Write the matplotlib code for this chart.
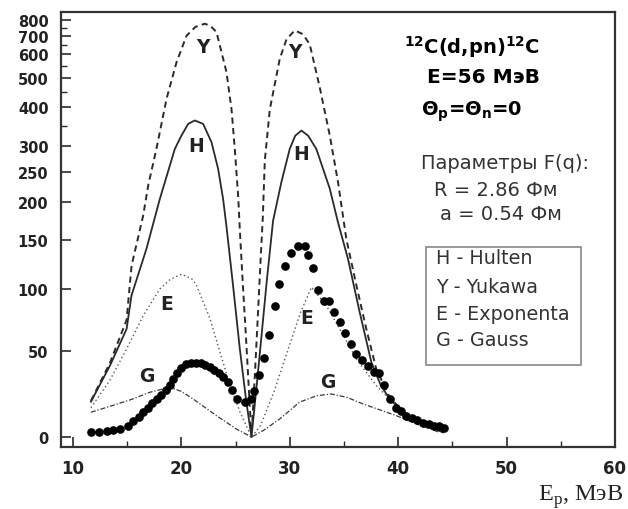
import numpy as np
import matplotlib
matplotlib.use('Agg')
import matplotlib.pyplot as plt
from matplotlib.patches import Rectangle

# ---------------- data ----------------
exp_E = [11.66, 12.42, 13.11, 13.71, 14.33, 15.04, 15.56, 16.08, 16.48, 16.88,
         17.31, 17.71, 18.11, 18.54, 18.94, 19.24, 19.56, 19.93, 20.41, 20.85,
         21.34, 21.77, 22.19, 22.63, 23.02, 23.46, 23.85, 24.26, 24.68, 25.09,
         25.85, 26.47, 26.68, 27.17, 27.63, 28.09, 28.62, 28.99, 29.54, 30.16,
         30.77, 31.45, 31.69, 32.15, 32.61, 33.16, 33.59, 34.08, 34.61, 35.13,
         35.62, 36.15, 36.66, 37.22, 37.74, 38.23, 38.66, 39.22, 39.77, 40.23,
         40.76, 41.27, 41.77, 42.29, 42.81, 43.30, 43.76, 44.22]
exp_val = [3.1, 3.1, 3.7, 4.2, 4.6, 6.6, 9.1, 11.6, 14.3, 16.9,
           19.6, 22.1, 24.6, 27.5, 30.4, 33.7, 37.2, 40.1, 42.3, 43.0,
           43.0, 42.8, 42.0, 40.9, 39.1, 37.2, 34.7, 31.8, 27.5, 22.1,
           20.2, 22.1, 26.6, 36.2, 45.7, 63.1, 85.9, 105.1, 123.8, 136.7,
           144.2, 143.5, 135.0, 121.1, 99.2, 90.6, 90.0, 81.1, 73.6, 64.5,
           55.6, 48.2, 44.9, 41.4, 37.6, 37.0, 30.4, 22.1, 16.7, 14.9,
           12.4, 10.9, 9.9, 8.1, 7.6, 6.6, 6.2, 5.1]

H_E = [11.66, 13.41, 14.95, 15.40, 16.78, 18.02, 19.40, 20.00, 20.63, 21.24,
       22.01, 22.78, 23.39, 23.85, 24.16, 24.77, 25.39, 26.00, 26.47, 26.96,
       27.42, 27.88, 28.46, 29.23, 30.00, 30.50, 31.08, 31.70, 32.45, 33.69,
       34.45, 35.37, 36.45, 37.53, 38.40, 39.22, 40.44, 42.29, 44.13]
H_val = [20.5, 41.4, 67.7, 94.6, 140.8, 205, 294, 325, 355, 364,
         355, 309, 256, 205, 168, 103.4, 52, 20.2, 0, 30.6,
         64.5, 108, 175, 233, 294, 325, 338, 325, 294, 222,
         173, 130.6, 81.2, 43.4, 30, 22, 14.5, 7.6, 2.7]

Y_E = [11.66, 13.41, 14.95, 15.41, 16.48, 16.94, 17.71, 18.64, 19.56, 20.48,
       21.30, 22.17, 22.70, 23.24, 24.16, 24.63, 24.93, 25.24, 25.39, 25.67,
       25.95, 26.22, 26.47, 26.77, 27.05, 27.33, 27.51, 27.70, 28.16, 29.08,
       29.70, 30.46, 31.20, 31.84, 32.76, 33.69, 34.45, 35.22, 36.15, 37.06,
       37.98, 39.22, 40.44, 42.29, 44.13]
Y_val = [21, 43, 75, 123.8, 182, 227, 295, 428, 565, 700,
         755, 775, 760, 723, 524, 393, 294, 210, 164.5, 105,
         63, 28.6, 0, 34.9, 77, 134, 178, 272, 393, 579,
         680, 733, 710, 653, 468, 326, 233, 151, 103.4, 67.7,
         39.5, 23, 15, 8, 3]

E_E = [11.66, 13.41, 14.95, 16.49, 18.02, 19.00, 20.02, 21.00, 21.41, 22.65,
       23.57, 24.50, 25.42, 26.47, 27.30, 28.53, 29.76, 31.00, 32.00, 33.38,
       34.61, 36.15, 37.99, 40.00, 42.00, 44.20]
E_val = [17, 33, 51.6, 78.5, 100, 110, 115, 110, 103.4, 75.8,
         49.2, 29.8, 14.4, 0, 6.6, 26, 49.2, 81.2, 101.7, 86.5,
         67.7, 45.3, 29.8, 17, 9, 4]

G_E = [11.66, 13.50, 15.25, 17.10, 18.94, 20.00, 21.09, 23.24, 25.09, 26.47,
       27.54, 29.08, 30.92, 32.50, 33.84, 35.30, 36.76, 39.83, 41.68, 43.82]
G_val = [14.4, 18, 21.5, 26, 28.9, 26.5, 22.1, 12.4, 4.6, 0,
         3.7, 10.5, 20.3, 24, 25, 23, 19.2, 12.4, 7.6, 2.7]

ytick_vals = [0, 50, 100, 150, 200, 250, 300, 400, 500, 600, 700, 800]
yminor_vals = [350, 450, 550, 650, 750]
xtick_vals = [10, 20, 30, 40, 50, 60]
xminor_vals = [15, 25, 35, 45, 55]
legend_labels = ['H - Hulten', 'Y - Yukawa', 'E - Exponenta', 'G - Gauss']

# ------------- custom (hand-drawn) y scale -------------
scale_v = np.array([-100, 0, 50, 100, 150, 200, 250, 300, 350, 400, 500, 600, 700, 800, 1200], float)
scale_d = np.array([-172, 0, 86, 148, 197, 235, 265, 291, 311, 330, 359, 383, 401, 417, 470], float)


def fwd(v):
    return np.interp(np.asarray(v, float), scale_v, scale_d)


def inv(d):
    return np.interp(np.asarray(d, float), scale_d, scale_v)


fig = plt.figure(figsize=(6.28, 5.10), dpi=100)
ax = fig.add_axes([61 / 628, 1 - 448 / 510, 554 / 628, 435 / 510])
ax.set_yscale('function', functions=(fwd, inv))
ax.set_xlim(8.9, 60)
ax.set_ylim(-5.8, 858)

lc = '#2a2a2a'
ax.plot(H_E, H_val, color=lc, lw=1.3, ls='-')
ax.plot(Y_E, Y_val, color=lc, lw=1.4, ls=(0, (3.2, 2.2)))
ax.plot(E_E, E_val, color='#555555', lw=1.0, ls=(0, (1, 2)))
ax.plot(G_E, G_val, color='#3a3a3a', lw=0.9, ls=(0, (4, 1.5, 1, 1.5)))
ax.plot(exp_E, exp_val, ls='none', marker='o', ms=5.2, color='black')

# ticks
ax.set_yticks(ytick_vals)
ax.set_yticks(yminor_vals, minor=True)
ax.set_yticklabels([str(v) for v in ytick_vals])
ax.set_xticks(xtick_vals)
ax.set_xticks(xminor_vals, minor=True)
ax.set_xticklabels([str(v) for v in xtick_vals])
ax.tick_params(which='major', direction='in', length=7, width=1.2, color=lc)
ax.tick_params(which='minor', direction='in', length=4, width=1.0, color=lc)
ax.tick_params(axis='y', which='major', pad=9)
ax.tick_params(axis='x', which='major', pad=9)
for lab in ax.get_yticklabels():
    lab.set_fontfamily('DejaVu Sans'); lab.set_fontweight('bold'); lab.set_fontsize(10.5); lab.set_color('#222222')
for lab in ax.get_xticklabels():
    lab.set_fontfamily('DejaVu Sans'); lab.set_fontweight('bold'); lab.set_fontsize(12); lab.set_color('#222222')
for sp in ax.spines.values():
    sp.set_linewidth(1.6)
    sp.set_color('#333333')

# curve labels
lab_kw = dict(fontsize=13.5, fontweight='bold', family='DejaVu Sans', ha='center', va='center', color='#222222')
ax.text(21.98, 639, 'Y', **lab_kw)
ax.text(21.40, 300, 'H', **lab_kw)
ax.text(18.64, 88, 'E', **lab_kw)
ax.text(16.79, 35.6, 'G', **lab_kw)
ax.text(30.46, 611, 'Y', **lab_kw)
ax.text(31.08, 285, 'H', **lab_kw)
ax.text(31.54, 77, 'E', **lab_kw)
ax.text(33.53, 32, 'G', **lab_kw)

# annotation block
tb = dict(transform=ax.transAxes, ha='center', va='center', family='DejaVu Sans')
ax.text(0.742, 0.922, r'$^{\mathbf{12}}$C(d,pn)$^{\mathbf{12}}$C', fontsize=14, fontweight='bold', color='black', **tb)
ax.text(0.762, 0.851, 'E=56 МэВ', fontsize=14.5, fontweight='bold', color='black', **tb)
ax.text(0.742, 0.772, r'Θ$_\mathbf{p}$=Θ$_\mathbf{n}$=0', fontsize=14, fontweight='bold', color='black', **tb)
ax.text(0.801, 0.653, 'Параметры F(q):', fontsize=14, color='#333333', **tb)
ax.text(0.785, 0.593, 'R = 2.86 Фм', fontsize=14, color='#333333', **tb)
ax.text(0.794, 0.536, 'a = 0.54 Фм', fontsize=14, color='#333333', **tb)

# legend box (text-only key)
ax.add_patch(Rectangle((0.659, 0.1885), 0.280, 0.2713, transform=ax.transAxes,
                       fill=False, edgecolor='#888888', lw=1.2))
leg_y = [0.4345, 0.370, 0.308, 0.248]
for yy, txt in zip(leg_y, legend_labels):
    ax.text(0.677, yy, txt, transform=ax.transAxes, ha='left', va='center',
            family='DejaVu Sans', fontsize=13.8, color='#333333')

fig.text(623 / 628, 1 - 501 / 510, r'E$_\mathregular{p}$, МэВ', family='Liberation Serif',
         fontsize=17.5, ha='right', va='baseline', color='#222222')

fig.savefig('out.png', dpi=100)
